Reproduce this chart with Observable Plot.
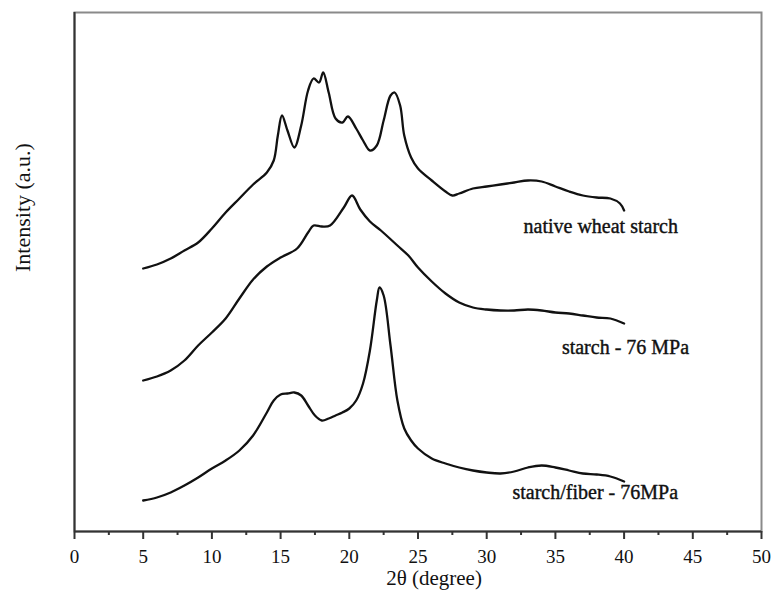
<!DOCTYPE html>
<html>
<head>
<meta charset="utf-8">
<script src="https://cdn.jsdelivr.net/npm/d3@7"></script>
<script src="https://cdn.jsdelivr.net/npm/@observablehq/plot@0.6"></script>
<style>
  html, body { margin: 0; padding: 0; background: #fff; }
  #chart svg { display: block; }
</style>
</head>
<body>
<div id="chart"></div>
<script>
// ---- data (intensity in arbitrary units) ----
const thetaNative = [5, 6, 7, 8, 9, 10, 11, 12, 13, 14, 14.5, 14.8, 15.1, 15.5, 16, 16.5, 17, 17.4, 17.8, 18.1, 18.5, 19, 19.5, 19.9, 20.5, 21, 21.5, 22, 22.5, 23, 23.3, 23.7, 24, 24.5, 25, 26, 27, 27.5, 28, 29, 30, 31, 32, 33, 34, 35, 36, 37, 38, 39, 39.7, 40];
const intensityNative = [263, 267, 273, 281, 289, 303, 319, 333, 347, 359, 371, 396, 416, 401, 384, 406, 441, 453, 449, 459, 439, 413, 409, 415, 403, 391, 381, 386, 411, 436, 439, 426, 396, 374, 363, 351, 340, 336, 338, 343, 345, 347, 349, 351, 350, 345, 340, 336, 334, 333, 328, 321];

const thetaStarch76 = [5, 6, 7, 8, 9, 10, 11, 12, 13, 14, 15, 16.2, 17, 17.4, 18, 18.6, 19.6, 20.2, 20.8, 21.5, 22.3, 23.5, 24.3, 25, 26, 27, 28, 29, 30, 31, 32, 33, 34, 35, 36, 37, 38, 39, 40];
const intensityStarch76 = [151, 155, 161, 171, 186, 199, 213, 233, 252, 265, 274, 283, 299, 306, 305, 306, 324, 336, 322, 310, 301, 286, 276, 264, 250, 238, 229, 224, 222, 221, 221, 222, 221, 219, 218, 216, 214, 213, 208];

const thetaFiber76 = [5, 6, 7, 8, 9, 10, 11, 12, 13, 14, 14.5, 15, 15.5, 16, 16.5, 17, 17.5, 18, 18.5, 19, 19.5, 20, 20.5, 21, 21.5, 22, 22.2, 22.5, 23, 23.5, 24, 24.5, 25, 26, 27, 28, 29, 30, 31, 32, 33, 34, 35, 36, 37, 38, 39, 40];
const intensityFiber76 = [31, 34, 39, 46, 54, 63, 71, 81, 96, 119, 131, 137, 138, 139, 136, 126, 116, 111, 113, 116, 119, 123, 131, 148, 181, 231, 244, 236, 186, 131, 103, 91, 83, 73, 68, 64, 61, 59, 58, 60, 64, 66, 64, 61, 58, 57, 55, 50];

const seriesNames = ["native wheat starch", "starch - 76 MPa", "starch/fiber - 76MPa"];
const labelTheta = [38.3, 40.1, 37.9];
const labelIntensity = [305, 184, 39];

const xTicks = [0, 5, 10, 15, 20, 25, 30, 35, 40, 45, 50];
const xMinorTicks = [2.5, 7.5, 12.5, 17.5, 22.5, 27.5, 32.5, 37.5, 42.5, 47.5];

// ---- build rows ----
const rows = [];
const thetas = [thetaNative, thetaStarch76, thetaFiber76];
const intens = [intensityNative, intensityStarch76, intensityFiber76];
seriesNames.forEach((name, s) => {
  thetas[s].forEach((t, i) => rows.push({series: name, theta: t, intensity: intens[s][i]}));
});
const labels = seriesNames.map((name, i) => ({name, theta: labelTheta[i], intensity: labelIntensity[i]}));

const serif = "'Liberation Serif', 'DejaVu Serif', serif";

const chart = Plot.plot({
  width: 772,
  height: 597,
  marginLeft: 74,
  marginRight: 11,
  marginTop: 12,
  marginBottom: 66,
  style: {fontFamily: serif, background: "#fff", color: "#111"},
  x: {domain: [0, 50], label: null},
  y: {domain: [0, 519], axis: null},
  marks: [
    Plot.frame({stroke: "#8a8a8a", strokeWidth: 2}),
    Plot.ruleX([0], {stroke: "#333", strokeWidth: 2}),
    Plot.ruleY([0], {stroke: "#333", strokeWidth: 2}),
    Plot.axisX({ticks: xMinorTicks, tickSize: 4, tickFormat: () => "", strokeWidth: 2, stroke: "#333", label: null}),
    Plot.axisX({ticks: xTicks, tickSize: 8, tickPadding: 10, tickFormat: d => String(d), fontSize: 19, strokeWidth: 2, stroke: "#333", label: null, fontFamily: serif}),
    Plot.line(rows, {x: "theta", y: "intensity", z: "series", stroke: "#111", strokeWidth: 2.3, curve: "catmull-rom"}),
    Plot.text(labels, {x: "theta", y: "intensity", text: "name", fontSize: 20, fill: "#111", stroke: "#111", strokeWidth: 0.4, textAnchor: "middle", fontFamily: serif, style: "letter-spacing:-0.6px"}),
    Plot.text(["2θ (degree)"], {frameAnchor: "bottom", dx: 16, dy: 53, fontSize: 21, fill: "#111", fontFamily: serif}),
    Plot.text(["Intensity (a.u.)"], {frameAnchor: "left", dx: -52, rotate: -90, fontSize: 22, fill: "#111", fontFamily: serif})
  ]
});
document.getElementById("chart").appendChild(chart);
</script>
</body>
</html>
